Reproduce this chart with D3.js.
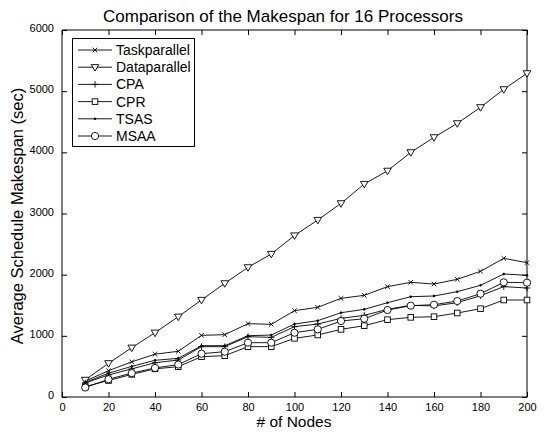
<!DOCTYPE html>
<html><head><meta charset="utf-8">
<script src="https://cdn.jsdelivr.net/npm/d3@7"></script>
<style>body{margin:0;background:#fff}svg{display:block}text{font-family:"Liberation Sans",Arial,sans-serif}</style>
</head><body><div id="c"></div>
<script>
const nodes = [10,20,30,40,50,60,70,80,90,100,110,120,130,140,150,160,170,180,190,200];
const taskparallel = [260,430,575,700,747,1008,1019,1199,1188,1411,1466,1613,1662,1804,1875,1847,1924,2055,2267,2196];
const dataparallel = [280,551,806,1051,1313,1586,1858,2120,2338,2640,2894,3166,3482,3698,4000,4245,4474,4736,5030,5292];
const cpa = [230,360,460,560,605,823,823,986,975,1150,1193,1286,1335,1433,1499,1488,1542,1656,1804,1782];
const cpr = [170,270,370,460,496,659,676,823,823,959,1014,1106,1166,1264,1302,1313,1373,1444,1586,1586];
const tsas = [240,390,500,600,632,839,839,1002,1013,1193,1248,1378,1433,1542,1640,1651,1722,1826,2011,1989];
const msaa = [155,290,390,475,530,708,741,888,888,1051,1106,1242,1280,1422,1493,1509,1569,1689,1875,1869];
const seriesNames = ["Taskparallel","Dataparallel","CPA","CPR","TSAS","MSAA"];
const seriesMarkers = ["x","tri","plus","square","dot","circle"];
const seriesValues = [taskparallel,dataparallel,cpa,cpr,tsas,msaa];
const xTicks = [0,20,40,60,80,100,120,140,160,180,200];
const yTicks = [0,1000,2000,3000,4000,5000,6000];

const W=546,H=432, L=62,R=527,T=30,B=397;
const svg=d3.select("#c").append("svg").attr("width",W).attr("height",H);
const x=d3.scaleLinear().domain([0,200]).range([L,R]);
const y=d3.scaleLinear().domain([0,6000]).range([B,T]);
const fmt=d3.format("d");

function marker(g,type,cx,cy){
  const s=g.append("g").attr("transform",`translate(${cx},${cy})`).attr("fill","none").attr("stroke","#000").attr("stroke-width",0.9);
  if(type==="x"){s.append("path").attr("d","M-2.3,-2.3L2.3,2.3M-2.3,2.3L2.3,-2.3");}
  else if(type==="tri"){s.append("path").attr("d","M-3.8,-2.6L3.8,-2.6L0,3.9Z").attr("fill","#fff");}
  else if(type==="plus"){s.append("path").attr("d","M-3.2,0L3.2,0M0,-3.2L0,3.2");}
  else if(type==="square"){s.append("rect").attr("x",-2.8).attr("y",-2.8).attr("width",5.6).attr("height",5.6).attr("fill","#fff");}
  else if(type==="dot"){s.append("circle").attr("r",0.9).attr("fill","#000");}
  else if(type==="circle"){s.append("circle").attr("r",3.6).attr("fill","#fff");}
}

const ax=svg.append("g");
ax.append("rect").attr("x",L).attr("y",T).attr("width",R-L).attr("height",B-T).attr("fill","none").attr("stroke","#000").attr("stroke-width",1);
const xb=svg.append("g").attr("transform",`translate(0,${B})`).call(d3.axisBottom(x).tickValues(xTicks).tickFormat(fmt).tickSizeInner(-5).tickSizeOuter(0).tickPadding(8));
const xt=svg.append("g").attr("transform",`translate(0,${T})`).call(d3.axisTop(x).tickValues(xTicks).tickSizeInner(-5).tickSizeOuter(0).tickFormat(""));
const yl=svg.append("g").attr("transform",`translate(${L},0)`).call(d3.axisLeft(y).tickValues(yTicks).tickFormat(fmt).tickSizeInner(-5).tickSizeOuter(0).tickPadding(8));
const yr=svg.append("g").attr("transform",`translate(${R},0)`).call(d3.axisRight(y).tickValues(yTicks).tickSizeInner(-5).tickSizeOuter(0).tickFormat(""));
[xb,xt,yl,yr].forEach(a=>{a.select(".domain").remove();a.selectAll("line").attr("stroke","#000");a.selectAll("text").attr("font-size",11).attr("fill","#000").style("font-family","Liberation Sans, Arial, sans-serif");});
xb.selectAll("text").attr("dy","0.55em");
yl.selectAll("text").attr("dy","0.15em");

const line=d3.line().x((d,i)=>x(nodes[i])).y(d=>y(d));
const pg=svg.append("g");
seriesValues.forEach((vals,k)=>{
  pg.append("path").attr("d",line(vals)).attr("fill","none").attr("stroke","#000").attr("stroke-width",0.9);
});
seriesValues.forEach((vals,k)=>{
  vals.forEach((v,i)=>marker(pg,seriesMarkers[k],x(nodes[i]),y(v)));
});

const lg=svg.append("g");
lg.append("rect").attr("x",72.5).attr("y",38.5).attr("width",122).attr("height",108).attr("fill","#fff").attr("stroke","#000").attr("stroke-width",1);
seriesNames.forEach((n,k)=>{
  const yy=50+k*17.2;
  lg.append("line").attr("x1",78).attr("x2",112).attr("y1",yy).attr("y2",yy).attr("stroke","#000").attr("stroke-width",0.9);
  marker(lg,seriesMarkers[k],95,yy);
  lg.append("text").attr("x",116).attr("y",yy+5).attr("font-size",14).text(n);
});

svg.append("text").attr("x",283).attr("y",22).attr("text-anchor","middle").attr("font-size",17).text("Comparison of the Makespan for 16 Processors");
svg.append("text").attr("x",294).attr("y",427).attr("text-anchor","middle").attr("font-size",15.5).text("# of Nodes");
svg.append("text").attr("transform","translate(23,216) rotate(-90)").attr("text-anchor","middle").attr("font-size",16.5).text("Average Schedule Makespan (sec)");
</script></body></html>
